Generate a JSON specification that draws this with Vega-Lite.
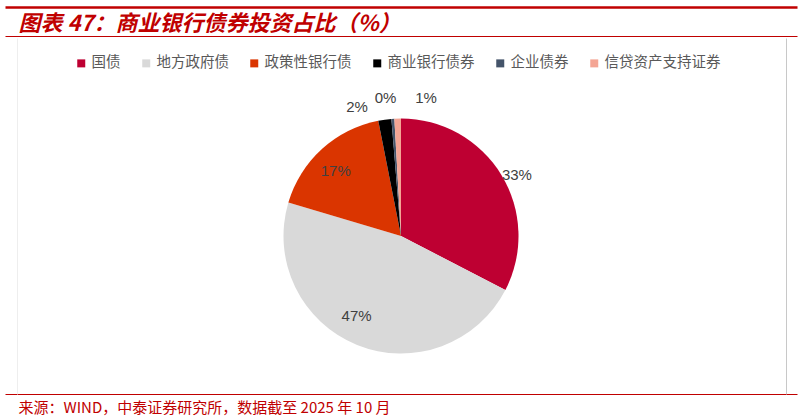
{
  "$schema": "https://vega.github.io/schema/vega-lite/v6.json",
  "width": 792,
  "height": 388,
  "autosize": {"type": "none"},
  "padding": {"left": 5, "top": 6, "right": 6, "bottom": 24},
  "background": "white",
  "config": {"view": {"stroke": null}},
  "data": {
    "values": [
      {"idx": 1, "type": "国债", "value": 32.6, "label": "33%"},
      {"idx": 2, "type": "地方政府债", "value": 47.0, "label": "47%"},
      {"idx": 3, "type": "政策性银行债", "value": 17.3, "label": "17%"},
      {"idx": 4, "type": "商业银行债券", "value": 1.8, "label": "2%"},
      {"idx": 5, "type": "企业债券", "value": 0.4, "label": "0%"},
      {"idx": 6, "type": "信贷资产支持证券", "value": 0.9, "label": "1%"}
    ]
  },
  "layer": [
    {
      "mark": {"type": "point", "opacity": 0},
      "encoding": {
        "x": {
          "datum": 0,
          "type": "quantitative",
          "scale": {"domain": [0, 792], "nice": false, "zero": false},
          "axis": {
            "orient": "bottom",
            "domain": false,
            "labels": false,
            "grid": false,
            "ticks": true,
            "values": [12, 781],
            "tickSize": -356,
            "tickColor": {"condition": {"test": "datum.value < 100", "value": "#EEEEEE"}, "value": "#C8C8C8"},
            "tickWidth": 1,
            "title": "来源：WIND，中泰证券研究所，数据截至 2025 年 10 月",
            "titleFont": "Noto Sans CJK SC",
            "titleFontSize": 15,
            "titleFontWeight": "normal",
            "titleColor": "#C00000",
            "titleAlign": "left",
            "titleBaseline": "middle",
            "titleX": 13,
            "titleY": 13
          }
        },
        "y": {
          "datum": 0,
          "type": "quantitative",
          "scale": {"domain": [0, 388], "reverse": true, "nice": false, "zero": false},
          "axis": {
            "domain": false,
            "ticks": false,
            "labels": false,
            "grid": true,
            "values": [1, 30, 388],
            "gridColor": "#C00000",
            "gridOpacity": 1,
            "gridWidth": {"condition": {"test": "datum.value == 1", "value": 2.5}, "value": 1.2},
            "title": "图表 47：商业银行债券投资占比（%）",
            "titleAngle": 0,
            "titleAlign": "left",
            "titleBaseline": "alphabetic",
            "titleX": 13,
            "titleY": 24,
            "titleFont": "Noto Sans CJK SC",
            "titleFontSize": 22,
            "titleFontWeight": "bold",
            "titleFontStyle": "italic",
            "titleColor": "#C00000"
          }
        }
      }
    },
    {
      "mark": {"type": "arc", "outerRadius": 117.5},
      "encoding": {
        "theta": {"field": "value", "type": "quantitative", "stack": true},
        "order": {"field": "idx", "type": "quantitative", "sort": "ascending"},
        "y": {"datum": 230, "type": "quantitative"},
        "color": {
          "field": "type",
          "type": "nominal",
          "scale": {
            "domain": ["国债", "地方政府债", "政策性银行债", "商业银行债券", "企业债券", "信贷资产支持证券"],
            "range": ["#BE0032", "#D9D9D9", "#DA3500", "#000000", "#44546A", "#F4A594"]
          },
          "legend": {
            "orient": "none",
            "legendX": 69,
            "legendY": 50,
            "direction": "horizontal",
            "title": null,
            "symbolType": "square",
            "symbolSize": 64,
            "symbolStrokeWidth": 0,
            "labelFont": "Noto Sans CJK SC",
            "labelFontSize": 14.5,
            "labelColor": "#595959",
            "labelOffset": 3,
            "columnPadding": 18
          }
        }
      }
    },
    {
      "mark": {"type": "text", "radius": 131, "dx": 4, "dy": 7, "font": "Liberation Sans", "fontSize": 15, "fill": "#404040"},
      "encoding": {
        "theta": {"field": "value", "type": "quantitative", "stack": true},
        "order": {"field": "idx", "type": "quantitative", "sort": "ascending"},
        "detail": {"field": "type", "type": "nominal"},
        "y": {"datum": 230, "type": "quantitative"},
        "text": {"condition": {"test": "datum.idx == 1", "field": "label"}, "value": ""}
      }
    },
    {
      "mark": {"type": "text", "radius": 92, "dx": -10, "dy": -5, "font": "Liberation Sans", "fontSize": 15, "fill": "#404040"},
      "encoding": {
        "theta": {"field": "value", "type": "quantitative", "stack": true},
        "order": {"field": "idx", "type": "quantitative", "sort": "ascending"},
        "detail": {"field": "type", "type": "nominal"},
        "y": {"datum": 230, "type": "quantitative"},
        "text": {"condition": {"test": "datum.idx == 2", "field": "label"}, "value": ""}
      }
    },
    {
      "mark": {"type": "text", "radius": 88, "dx": -6, "dy": 0, "font": "Liberation Sans", "fontSize": 15, "fill": "#404040"},
      "encoding": {
        "theta": {"field": "value", "type": "quantitative", "stack": true},
        "order": {"field": "idx", "type": "quantitative", "sort": "ascending"},
        "detail": {"field": "type", "type": "nominal"},
        "y": {"datum": 230, "type": "quantitative"},
        "text": {"condition": {"test": "datum.idx == 3", "field": "label"}, "value": ""}
      }
    },
    {
      "mark": {"type": "text", "radius": 130, "dx": -26, "dy": 0, "font": "Liberation Sans", "fontSize": 15, "fill": "#404040"},
      "encoding": {
        "theta": {"field": "value", "type": "quantitative", "stack": true},
        "order": {"field": "idx", "type": "quantitative", "sort": "ascending"},
        "detail": {"field": "type", "type": "nominal"},
        "y": {"datum": 230, "type": "quantitative"},
        "text": {"condition": {"test": "datum.idx == 4", "field": "label"}, "value": ""}
      }
    },
    {
      "mark": {"type": "text", "radius": 138, "dx": -6, "dy": 0, "font": "Liberation Sans", "fontSize": 15, "fill": "#404040"},
      "encoding": {
        "theta": {"field": "value", "type": "quantitative", "stack": true},
        "order": {"field": "idx", "type": "quantitative", "sort": "ascending"},
        "detail": {"field": "type", "type": "nominal"},
        "y": {"datum": 230, "type": "quantitative"},
        "text": {"condition": {"test": "datum.idx == 5", "field": "label"}, "value": ""}
      }
    },
    {
      "mark": {"type": "text", "radius": 138, "dx": 29, "dy": 0, "font": "Liberation Sans", "fontSize": 15, "fill": "#404040"},
      "encoding": {
        "theta": {"field": "value", "type": "quantitative", "stack": true},
        "order": {"field": "idx", "type": "quantitative", "sort": "ascending"},
        "detail": {"field": "type", "type": "nominal"},
        "y": {"datum": 230, "type": "quantitative"},
        "text": {"condition": {"test": "datum.idx == 6", "field": "label"}, "value": ""}
      }
    }
  ]
}
